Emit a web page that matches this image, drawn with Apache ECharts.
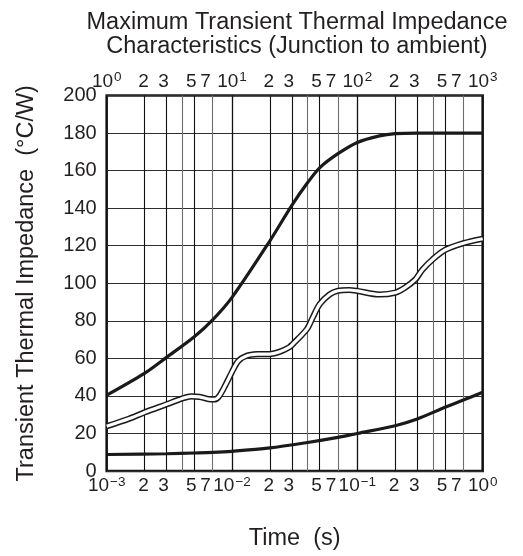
<!DOCTYPE html>
<html><head><meta charset="utf-8">
<script src="https://cdn.jsdelivr.net/npm/echarts@6.0.0/dist/echarts.min.js"></script>
<style>html,body{margin:0;padding:0;background:#fff}#c{width:523px;height:556px}</style>
</head><body><div id="c"></div>
<script>
// ---- data (time in seconds on the bottom axis, Zth in °C/W) ----
const timeUpper = [0.001, 0.002, 0.003, 0.005, 0.007, 0.01, 0.02, 0.03, 0.04, 0.05, 0.07, 0.1, 0.15, 0.2, 0.3, 0.5, 1];
const zthUpper  = [40.4, 52, 60.5, 71.5, 80.5, 92.5, 122.5, 141.5, 153.5, 161.5, 169, 175, 178.5, 179.7, 180, 180, 180];

const timeMiddle = [0.001, 0.0015, 0.002, 0.003, 0.004, 0.0047, 0.0055, 0.0065, 0.0072, 0.0078, 0.0088, 0.01, 0.0112, 0.013, 0.016, 0.02, 0.024, 0.0287, 0.0305, 0.0395, 0.044, 0.05, 0.06, 0.07, 0.086, 0.1, 0.15, 0.2, 0.24, 0.29, 0.33, 0.4, 0.5, 0.7, 1];
const zthMiddle  = [23.8, 27.8, 31.2, 35.5, 38.6, 39.8, 39.5, 38.3, 38.1, 39.4, 45.4, 52.8, 58.5, 61.3, 62.2, 62.3, 63.5, 66, 67.6, 75.5, 81.7, 88.8, 94, 96, 96.4, 95.9, 94, 95, 97.7, 102, 107.2, 112.8, 117.7, 121.3, 123.7];

const timeLower = [0.001, 0.003, 0.005, 0.007, 0.01, 0.02, 0.04, 0.07, 0.1, 0.2, 0.3, 0.5, 0.7, 1];
const zthLower  = [8.8, 9.2, 9.6, 9.9, 10.5, 12.3, 15.2, 17.9, 20, 24.1, 27.7, 33.9, 37.8, 41.9];

// grid lines / tick labels
const bottomMinorTicks = [0.002, 0.003, 0.004, 0.005, 0.007, 0.02, 0.03, 0.04, 0.05, 0.07, 0.2, 0.3, 0.4, 0.5, 0.7];
const topMinorLabels = [2, 3, 5, 7, 20, 30, 50, 70, 200, 300, 500, 700];
const yMin = 0, yMax = 200, yStep = 20;

// ---- helpers ----
const FONT = "'Liberation Sans', Arial, Helvetica, sans-serif";
const TXT = '#231f20';
const XFS = 19;
const zip = (xs, ys) => xs.map((x, i) => [x, ys[i]]);
const mantissa = v => Math.round(v / Math.pow(10, Math.floor(Math.log10(v) + 1e-9)));
const shiftOf = {2: 1, 3: 3, 5: 3, 7: 7};
const decadeLabel = v => {
  const e = Math.round(Math.log10(v));
  return '{b|10}{s|' + (e < 0 ? '\u2212' + (-e) : e) + '}';
};
const richDec = {
  b: {fontSize: XFS, lineHeight: 22, fontFamily: FONT, color: TXT},
  s: {fontSize: 13.5, lineHeight: 14, verticalAlign: 'top', fontFamily: FONT, color: TXT, padding: [0, 0, 0, 1]}
};
const minorColor = m => (m === 4 || m === 7) ? '#6e6e6e' : '#111111';

const chart = echarts.init(document.getElementById('c'), null, {renderer: 'canvas'});
chart.setOption({
  animation: false,
  backgroundColor: '#fff',
  title: {
    text: 'Maximum Transient Thermal Impedance\nCharacteristics (Junction to ambient)',
    left: 297, top: 10, textAlign: 'center', padding: 0,
    textStyle: {fontFamily: FONT, fontSize: 23.5, fontWeight: 'normal', lineHeight: 24.5, color: TXT}
  },
  grid: {left: 106.7, right: 40.3, top: 95.5, bottom: 84, show: true, borderColor: '#1a1a1a', borderWidth: 2.5, containLabel: false},
  xAxis: [
    {
      type: 'log', logBase: 10, min: 0.001, max: 1, splitNumber: 3, position: 'bottom',
      axisLine: {show: false}, axisTick: {show: false},
      axisLabel: {margin: 4, formatter: decadeLabel, rich: richDec, fontFamily: FONT, fontSize: XFS, color: TXT},
      splitLine: {show: true, lineStyle: {color: '#111', width: 1.3}},
      name: 'Time  (s)', nameLocation: 'middle', nameGap: 56,
      nameTextStyle: {fontFamily: FONT, fontSize: 23.5, color: TXT}
    },
    {
      type: 'log', logBase: 10, min: 1, max: 1000, splitNumber: 3, position: 'top',
      axisLine: {show: false}, axisTick: {show: false}, splitLine: {show: false},
      axisLabel: {margin: 3, formatter: decadeLabel, rich: richDec, fontFamily: FONT, fontSize: XFS, color: TXT}
    }
  ],
  yAxis: {
    type: 'value', min: yMin, max: yMax, interval: yStep,
    axisLine: {show: false}, axisTick: {show: false},
    axisLabel: {margin: 10, fontFamily: FONT, fontSize: 20, color: TXT},
    splitLine: {show: true, lineStyle: {color: '#2e2e2e', width: 1}},
    name: 'Transient Thermal Impedance  (\u00b0C/W)', nameLocation: 'middle', nameGap: 68,
    nameTextStyle: {fontFamily: FONT, fontSize: 23.5, color: TXT}
  },
  series: [
    {
      name: 'minor-grid', type: 'line', xAxisIndex: 0, yAxisIndex: 0, data: [], z: 1, silent: true,
      markLine: {
        silent: true, symbol: ['none', 'none'], animation: false, precision: 6,
        lineStyle: {type: 'solid', width: 1.1},
        label: {show: true, position: 'start', distance: 4, fontFamily: FONT, fontSize: XFS, lineHeight: 22, color: TXT,
          formatter: p => { const m = mantissa(p.value); return m === 4 ? '' : String(m); }},
        emphasis: {disabled: true},
        data: bottomMinorTicks.map(t => {
          const m = mantissa(t);
          return {xAxis: t, lineStyle: {color: minorColor(m), type: 'solid', width: 1.1},
                  label: {padding: [0, 2 * (shiftOf[m] || 0), 0, 0]}};
        })
      }
    },
    {
      name: 'top-labels', type: 'line', xAxisIndex: 1, yAxisIndex: 0, data: [], z: 1, silent: true,
      markLine: {
        silent: true, symbol: ['none', 'none'], animation: false, precision: 6,
        lineStyle: {color: 'rgba(0,0,0,0)', width: 0},
        label: {show: true, position: 'end', distance: 3, fontFamily: FONT, fontSize: XFS, lineHeight: 22, color: TXT,
          formatter: p => String(mantissa(p.value))},
        emphasis: {disabled: true},
        data: topMinorLabels.map(t => {
          const m = mantissa(t);
          return {xAxis: t, label: {padding: [0, 2 * (shiftOf[m] || 0), 0, 0]}};
        })
      }
    },
    {name: 'upper', type: 'line', data: zip(timeUpper, zthUpper), symbol: 'none', smooth: 0.3, z: 5,
     lineStyle: {color: '#1a1a1a', width: 3.2}},
    {name: 'middle-outline', type: 'line', data: zip(timeMiddle, zthMiddle), symbol: 'none', smooth: 0.3, z: 5,
     lineStyle: {color: '#1a1a1a', width: 6.2}},
    {name: 'middle', type: 'line', data: zip(timeMiddle, zthMiddle), symbol: 'none', smooth: 0.3, z: 6,
     lineStyle: {color: '#ffffff', width: 3.2}},
    {name: 'lower', type: 'line', data: zip(timeLower, zthLower), symbol: 'none', smooth: 0.3, z: 5,
     lineStyle: {color: '#1a1a1a', width: 3.2}}
  ]
});
</script></body></html>
